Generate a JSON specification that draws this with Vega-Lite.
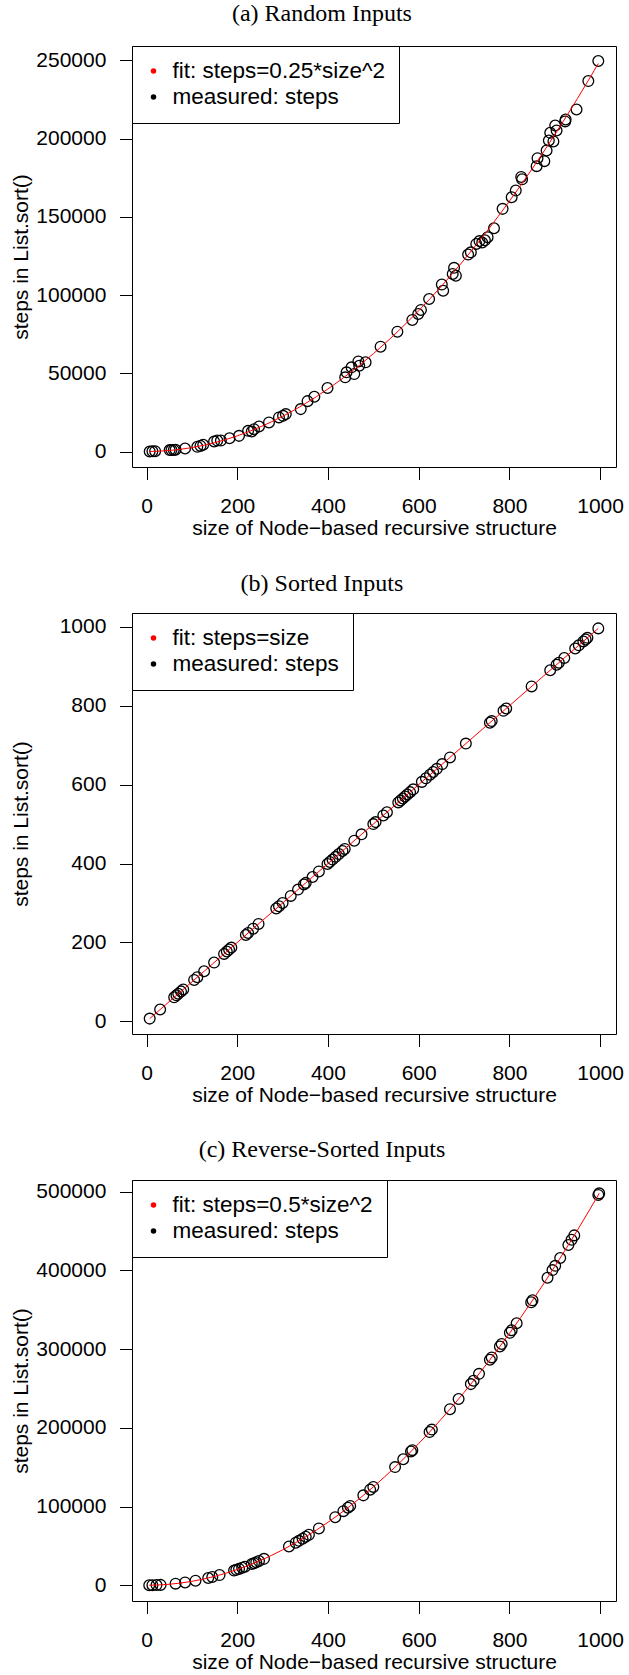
{
  "$schema": "https://vega.github.io/schema/vega-lite/v6.json",
  "background": "white",
  "padding": {"left": 9, "top": 1, "right": 0, "bottom": 0},
  "config": {
    "view": {"stroke": "black", "strokeWidth": 1},
    "axis": {"domain": false, "grid": false, "ticks": true, "tickSize": 12.5, "tickColor": "black", "tickWidth": 1, "labelFont": "Liberation Sans", "labelFontSize": 21, "labelColor": "black", "titleFont": "Liberation Sans", "titleFontSize": 21, "titleFontWeight": "normal", "titleColor": "black", "labelFlush": false, "labelOverlap": false},
    "axisX": {"labelPadding": 32.5, "labelBaseline": "alphabetic", "titleY": 67, "titleBaseline": "alphabetic"},
    "axisY": {"labelPadding": 13.6, "titleX": -110.6, "titleBaseline": "middle", "titleAngle": 270},
    "legend": {"orient": "top-left", "offset": 0, "padding": 13.75, "strokeColor": "black", "strokeWidth": 1, "fillColor": "white", "cornerRadius": 0, "labelFont": "Arial", "labelFontSize": 22.5, "labelColor": "black", "labelOffset": 7.7, "symbolOffset": -3.5, "labelLimit": 0, "rowPadding": 3, "symbolType": "circle", "symbolSize": 30, "symbolStrokeWidth": 0, "symbolOpacity": 1, "title": null},
    "title": {"font": "Liberation Serif", "fontSize": 24, "fontWeight": "normal", "color": "black", "baseline": "alphabetic", "offset": 19.4, "frame": "bounds", "anchor": "middle", "dx": 5}
  },
  "datasets": {
    "a_points": [
      {"size": 7, "steps": 0}, {"size": 13, "steps": 100}, {"size": 19, "steps": 200}, {"size": 51, "steps": 900}, {"size": 55, "steps": 900}, {"size": 60, "steps": 1000}, {"size": 64, "steps": 1100}, {"size": 85, "steps": 1900}, {"size": 112, "steps": 3000}, {"size": 119, "steps": 3600}, {"size": 125, "steps": 4300}, {"size": 149, "steps": 6400}, {"size": 156, "steps": 7000}, {"size": 164, "steps": 7000}, {"size": 183, "steps": 8500}, {"size": 204, "steps": 10000}, {"size": 224, "steps": 13200}, {"size": 232, "steps": 12800}, {"size": 237, "steps": 14300}, {"size": 248, "steps": 16000}, {"size": 270, "steps": 18600}, {"size": 292, "steps": 21800}, {"size": 301, "steps": 22800}, {"size": 307, "steps": 23900}, {"size": 340, "steps": 27100}, {"size": 355, "steps": 32200}, {"size": 370, "steps": 35000}, {"size": 399, "steps": 40600},
      {"size": 438, "steps": 47400}, {"size": 441, "steps": 50600}, {"size": 452, "steps": 53800}, {"size": 458, "steps": 49500}, {"size": 467, "steps": 57600}, {"size": 469, "steps": 54800}, {"size": 483, "steps": 57000}, {"size": 516, "steps": 67000}, {"size": 553, "steps": 76600}, {"size": 586, "steps": 84100}, {"size": 599, "steps": 87900}, {"size": 605, "steps": 90500}, {"size": 623, "steps": 97500}, {"size": 651, "steps": 106700}, {"size": 654, "steps": 102800}, {"size": 675, "steps": 113500}, {"size": 678, "steps": 117400}, {"size": 682, "steps": 112400}, {"size": 709, "steps": 125900}, {"size": 715, "steps": 127300},
      {"size": 727, "steps": 132700}, {"size": 734, "steps": 134500}, {"size": 740, "steps": 133600}, {"size": 746, "steps": 135000}, {"size": 752, "steps": 137000}, {"size": 766, "steps": 142700}, {"size": 785, "steps": 155100}, {"size": 805, "steps": 162500}, {"size": 814, "steps": 166800}, {"size": 826, "steps": 175500}, {"size": 828, "steps": 174000}, {"size": 860, "steps": 182400}, {"size": 862, "steps": 187500}, {"size": 877, "steps": 185600}, {"size": 882, "steps": 192400}, {"size": 887, "steps": 198800}, {"size": 890, "steps": 203700}, {"size": 897, "steps": 198200}, {"size": 901, "steps": 208400}, {"size": 904, "steps": 205200}, {"size": 923, "steps": 211000}, {"size": 924, "steps": 212200}, {"size": 948, "steps": 218600}, {"size": 974, "steps": 236800}, {"size": 996, "steps": 249600}
    ],
    "a_fit": [
      {"size": 7, "steps": 12}, {"size": 50, "steps": 625}, {"size": 100, "steps": 2500}, {"size": 150, "steps": 5625}, {"size": 200, "steps": 10000}, {"size": 250, "steps": 15625}, {"size": 300, "steps": 22500}, {"size": 350, "steps": 30625}, {"size": 400, "steps": 40000}, {"size": 450, "steps": 50625}, {"size": 500, "steps": 62500}, {"size": 550, "steps": 75625}, {"size": 600, "steps": 90000}, {"size": 650, "steps": 105625}, {"size": 700, "steps": 122500}, {"size": 750, "steps": 140625}, {"size": 800, "steps": 160000}, {"size": 850, "steps": 180625}, {"size": 900, "steps": 202500}, {"size": 950, "steps": 225625}, {"size": 996, "steps": 248004}
    ],
    "b_points": [
      {"size": 7, "steps": 7}, {"size": 30, "steps": 30}, {"size": 61, "steps": 61}, {"size": 66, "steps": 66}, {"size": 70, "steps": 70}, {"size": 76, "steps": 76}, {"size": 81, "steps": 81}, {"size": 105, "steps": 105}, {"size": 112, "steps": 112}, {"size": 127, "steps": 127}, {"size": 149, "steps": 149}, {"size": 171, "steps": 171}, {"size": 177, "steps": 177}, {"size": 182, "steps": 182}, {"size": 187, "steps": 187}, {"size": 219, "steps": 219}, {"size": 224, "steps": 224}, {"size": 235, "steps": 235}, {"size": 247, "steps": 247}, {"size": 286, "steps": 286}, {"size": 292, "steps": 292}, {"size": 300, "steps": 300}, {"size": 318, "steps": 318}, {"size": 334, "steps": 334}, {"size": 347, "steps": 347}, {"size": 351, "steps": 351}, {"size": 366, "steps": 366}, {"size": 380, "steps": 380}, {"size": 399, "steps": 399}, {"size": 404, "steps": 404}, {"size": 410, "steps": 410}, {"size": 417, "steps": 417}, {"size": 424, "steps": 424}, {"size": 432, "steps": 432}, {"size": 437, "steps": 437}, {"size": 458, "steps": 458}, {"size": 474, "steps": 474}, {"size": 500, "steps": 500}, {"size": 505, "steps": 505}, {"size": 522, "steps": 522}, {"size": 530, "steps": 530}, {"size": 555, "steps": 555}, {"size": 560, "steps": 560}, {"size": 565, "steps": 565}, {"size": 570, "steps": 570}, {"size": 575, "steps": 575}, {"size": 581, "steps": 581}, {"size": 588, "steps": 588}, {"size": 607, "steps": 607}, {"size": 616, "steps": 616}, {"size": 625, "steps": 625}, {"size": 632, "steps": 632}, {"size": 640, "steps": 640}, {"size": 652, "steps": 652}, {"size": 669, "steps": 669}, {"size": 704, "steps": 704}, {"size": 757, "steps": 757}, {"size": 761, "steps": 761}, {"size": 787, "steps": 787}, {"size": 793, "steps": 793}, {"size": 849, "steps": 849}, {"size": 890, "steps": 890}, {"size": 904, "steps": 904}, {"size": 909, "steps": 909}, {"size": 921, "steps": 921}, {"size": 945, "steps": 945}, {"size": 953, "steps": 953}, {"size": 963, "steps": 963}, {"size": 968, "steps": 968}, {"size": 972, "steps": 972}, {"size": 996, "steps": 996}
    ],
    "b_fit": [
      {"size": 7, "steps": 7}, {"size": 500, "steps": 500}, {"size": 996, "steps": 996}
    ],
    "c_points": [
      {"size": 6, "steps": 18}, {"size": 13, "steps": 85}, {"size": 22, "steps": 242}, {"size": 31, "steps": 480}, {"size": 64, "steps": 2048}, {"size": 85, "steps": 3612}, {"size": 108, "steps": 5832}, {"size": 136, "steps": 9248}, {"size": 145, "steps": 10512}, {"size": 161, "steps": 12960}, {"size": 193, "steps": 18624}, {"size": 198, "steps": 19602}, {"size": 204, "steps": 20808}, {"size": 211, "steps": 22260}, {"size": 217, "steps": 23544}, {"size": 232, "steps": 26912}, {"size": 237, "steps": 28084}, {"size": 242, "steps": 29282}, {"size": 248, "steps": 30752}, {"size": 259, "steps": 33540}, {"size": 314, "steps": 49298}, {"size": 329, "steps": 54120}, {"size": 336, "steps": 56448}, {"size": 344, "steps": 59168}, {"size": 351, "steps": 61600}, {"size": 358, "steps": 64082}, {"size": 380, "steps": 72200}, {"size": 416, "steps": 86528}, {"size": 434, "steps": 94178}, {"size": 444, "steps": 98568}, {"size": 449, "steps": 100800}, {"size": 478, "steps": 114242}, {"size": 493, "steps": 121524}, {"size": 500, "steps": 125000}, {"size": 548, "steps": 150152}, {"size": 566, "steps": 160178}, {"size": 583, "steps": 169944}, {"size": 586, "steps": 171698}, {"size": 624, "steps": 194688}, {"size": 629, "steps": 197820}, {"size": 669, "steps": 223780}, {"size": 688, "steps": 236672}, {"size": 715, "steps": 255612}, {"size": 721, "steps": 259920}, {"size": 733, "steps": 268644}, {"size": 757, "steps": 286524}, {"size": 761, "steps": 289560}, {"size": 779, "steps": 303420}, {"size": 783, "steps": 306544}, {"size": 801, "steps": 320800}, {"size": 805, "steps": 324012}, {"size": 816, "steps": 332928}, {"size": 848, "steps": 359552}, {"size": 851, "steps": 362100}, {"size": 884, "steps": 390728}, {"size": 895, "steps": 400512}, {"size": 901, "steps": 405900}, {"size": 912, "steps": 415872}, {"size": 930, "steps": 432450}, {"size": 937, "steps": 438984}, {"size": 943, "steps": 444624}, {"size": 996, "steps": 496008}, {"size": 998, "steps": 498002}
    ],
    "c_fit": [
      {"size": 6, "steps": 18}, {"size": 50, "steps": 1250}, {"size": 100, "steps": 5000}, {"size": 150, "steps": 11250}, {"size": 200, "steps": 20000}, {"size": 250, "steps": 31250}, {"size": 300, "steps": 45000}, {"size": 350, "steps": 61250}, {"size": 400, "steps": 80000}, {"size": 450, "steps": 101250}, {"size": 500, "steps": 125000}, {"size": 550, "steps": 151250}, {"size": 600, "steps": 180000}, {"size": 650, "steps": 211250}, {"size": 700, "steps": 245000}, {"size": 750, "steps": 281250}, {"size": 800, "steps": 320000}, {"size": 850, "steps": 361250}, {"size": 900, "steps": 405000}, {"size": 950, "steps": 451250}, {"size": 998, "steps": 498002}
    ]
  },
  "spacing": 146,
  "bounds": "flush",
  "resolve": {"scale": {"fill": "independent", "x": "independent", "y": "independent"}, "legend": {"fill": "independent"}},
  "vconcat": [
    {
      "width": 484, "height": 421,
      "title": {"text": "(a) Random Inputs"},
      "layer": [
        {
          "data": {"name": "a_points"},
          "mark": {"type": "point", "shape": "circle", "filled": false, "size": 115, "strokeWidth": 1.3, "opacity": 1, "color": "black"},
          "encoding": {
            "x": {"field": "size", "type": "quantitative", "scale": {"domain": [-32, 1035], "nice": false, "zero": false}, "axis": {"values": [0, 200, 400, 600, 800, 1000], "format": "d", "title": "size of Node−based recursive structure"}},
            "y": {"field": "steps", "type": "quantitative", "scale": {"domain": [-9900, 259200], "nice": false, "zero": false}, "axis": {"values": [0, 50000, 100000, 150000, 200000, 250000], "format": "d", "title": "steps in List.sort()"}}
          }
        },
        {
          "data": {"name": "a_fit"},
          "mark": {"type": "line", "strokeWidth": 1, "interpolate": "monotone", "color": "red"},
          "encoding": {
            "x": {"field": "size", "type": "quantitative"},
            "y": {"field": "steps", "type": "quantitative"}
          }
        },
        {
          "data": {"values": []},
          "mark": {"type": "point", "shape": "circle", "filled": true, "size": 30, "opacity": 1},
          "encoding": {
            "x": {"field": "size", "type": "quantitative"},
            "y": {"field": "steps", "type": "quantitative"},
            "fill": {"field": "series", "type": "nominal", "scale": {"domain": ["fit: steps=0.25*size^2", "measured: steps"], "range": ["red", "black"]}, "legend": {"title": null}}
          }
        }
      ]
    },
    {
      "width": 484, "height": 421,
      "title": {"text": "(b) Sorted Inputs", "offset": 16.4},
      "layer": [
        {
          "data": {"name": "b_points"},
          "mark": {"type": "point", "shape": "circle", "filled": false, "size": 115, "strokeWidth": 1.3, "opacity": 1, "color": "black"},
          "encoding": {
            "x": {"field": "size", "type": "quantitative", "scale": {"domain": [-32, 1035], "nice": false, "zero": false}, "axis": {"values": [0, 200, 400, 600, 800, 1000], "format": "d", "title": "size of Node−based recursive structure"}},
            "y": {"field": "steps", "type": "quantitative", "scale": {"domain": [-32, 1035], "nice": false, "zero": false}, "axis": {"values": [0, 200, 400, 600, 800, 1000], "format": "d", "title": "steps in List.sort()"}}
          }
        },
        {
          "data": {"name": "b_fit"},
          "mark": {"type": "line", "strokeWidth": 1, "color": "red"},
          "encoding": {
            "x": {"field": "size", "type": "quantitative"},
            "y": {"field": "steps", "type": "quantitative"}
          }
        },
        {
          "data": {"values": []},
          "mark": {"type": "point", "shape": "circle", "filled": true, "size": 30, "opacity": 1},
          "encoding": {
            "x": {"field": "size", "type": "quantitative"},
            "y": {"field": "steps", "type": "quantitative"},
            "fill": {"field": "series", "type": "nominal", "scale": {"domain": ["fit: steps=size", "measured: steps"], "range": ["red", "black"]}, "legend": {"title": null}}
          }
        }
      ]
    },
    {
      "width": 484, "height": 421,
      "title": {"text": "(c) Reverse-Sorted Inputs", "offset": 17.4},
      "layer": [
        {
          "data": {"name": "c_points"},
          "mark": {"type": "point", "shape": "circle", "filled": false, "size": 115, "strokeWidth": 1.3, "opacity": 1, "color": "black"},
          "encoding": {
            "x": {"field": "size", "type": "quantitative", "scale": {"domain": [-32, 1035], "nice": false, "zero": false}, "axis": {"values": [0, 200, 400, 600, 800, 1000], "format": "d", "title": "size of Node−based recursive structure"}},
            "y": {"field": "steps", "type": "quantitative", "scale": {"domain": [-20000, 515000], "nice": false, "zero": false}, "axis": {"values": [0, 100000, 200000, 300000, 400000, 500000], "format": "d", "title": "steps in List.sort()"}}
          }
        },
        {
          "data": {"name": "c_fit"},
          "mark": {"type": "line", "strokeWidth": 1, "interpolate": "monotone", "color": "red"},
          "encoding": {
            "x": {"field": "size", "type": "quantitative"},
            "y": {"field": "steps", "type": "quantitative"}
          }
        },
        {
          "data": {"values": []},
          "mark": {"type": "point", "shape": "circle", "filled": true, "size": 30, "opacity": 1},
          "encoding": {
            "x": {"field": "size", "type": "quantitative"},
            "y": {"field": "steps", "type": "quantitative"},
            "fill": {"field": "series", "type": "nominal", "scale": {"domain": ["fit: steps=0.5*size^2", "measured: steps"], "range": ["red", "black"]}, "legend": {"title": null}}
          }
        }
      ]
    }
  ]
}
